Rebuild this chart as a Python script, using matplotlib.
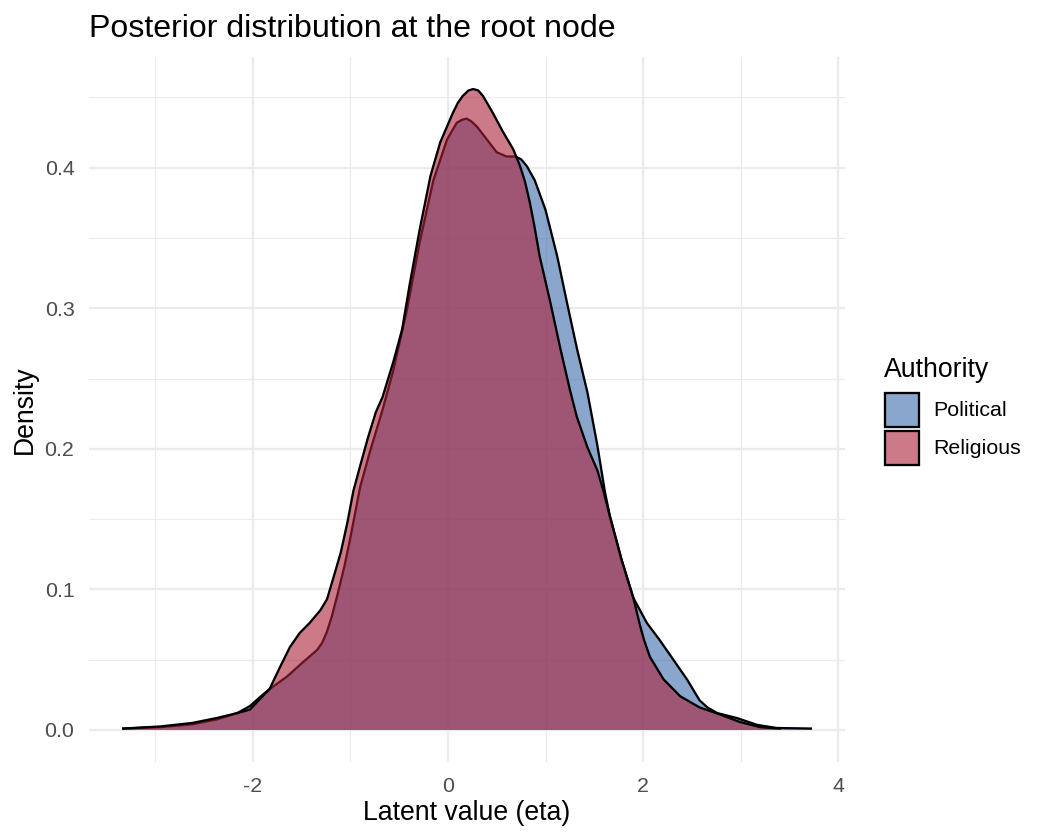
import matplotlib.pyplot as plt
from matplotlib.patches import Rectangle
from matplotlib.colors import to_rgba

# --- data (density curves) ---
political_x = [-3.33, -2.95, -2.62, -2.37, -2.16, -2.03, -1.90, -1.83, -1.65, -1.49,
               -1.34, -1.29, -1.24, -1.19, -1.13, -1.06, -1.00, -0.90, -0.80, -0.67,
               -0.56, -0.42, -0.29, -0.15, -0.01, 0.09, 0.14, 0.19, 0.24, 0.30,
               0.40, 0.50, 0.60, 0.69, 0.75, 0.81, 0.89, 1.00, 1.12, 1.22,
               1.32, 1.43, 1.53, 1.61, 1.66, 1.78, 1.90, 2.04, 2.17, 2.31,
               2.45, 2.58, 2.66, 2.76, 2.96, 3.17, 3.37, 3.72]
political_y = [0.001, 0.002, 0.004, 0.0075, 0.012, 0.017, 0.025, 0.029, 0.038, 0.048,
               0.057, 0.062, 0.070, 0.081, 0.097, 0.117, 0.137, 0.173, 0.198, 0.228,
               0.256, 0.299, 0.347, 0.391, 0.420, 0.432, 0.434, 0.435, 0.433, 0.429,
               0.420, 0.411, 0.408, 0.408, 0.406, 0.401, 0.391, 0.370, 0.337, 0.304,
               0.272, 0.240, 0.203, 0.169, 0.152, 0.121, 0.094, 0.076, 0.064, 0.050,
               0.036, 0.021, 0.016, 0.012, 0.0085, 0.0036, 0.0014, 0.001]

religious_x = [-3.33, -2.95, -2.62, -2.37, -2.16, -2.03, -1.90, -1.83, -1.72, -1.62,
               -1.52, -1.42, -1.31, -1.24, -1.18, -1.10, -1.03, -0.97, -0.90, -0.82,
               -0.74, -0.67, -0.56, -0.47, -0.39, -0.29, -0.18, -0.08, 0.05, 0.10,
               0.15, 0.21, 0.26, 0.31, 0.36, 0.46, 0.56, 0.67, 0.74, 0.79,
               0.84, 0.89, 0.94, 1.05, 1.15, 1.25, 1.32, 1.43, 1.53, 1.59,
               1.66, 1.78, 1.90, 1.97, 2.01, 2.07, 2.21, 2.38, 2.58, 2.79,
               2.99, 3.20, 3.40]
religious_y = [0.001, 0.0025, 0.005, 0.0085, 0.012, 0.0145, 0.024, 0.029, 0.045, 0.059,
               0.069, 0.076, 0.085, 0.093, 0.107, 0.126, 0.148, 0.170, 0.188, 0.208,
               0.226, 0.237, 0.262, 0.285, 0.318, 0.356, 0.394, 0.418, 0.439, 0.446,
               0.451, 0.455, 0.456, 0.455, 0.451, 0.439, 0.426, 0.413, 0.401, 0.390,
               0.375, 0.357, 0.337, 0.304, 0.272, 0.242, 0.223, 0.201, 0.185, 0.171,
               0.152, 0.121, 0.094, 0.074, 0.064, 0.052, 0.036, 0.024, 0.016, 0.011,
               0.0057, 0.002, 0.001]

groups = ['Political', 'Religious']
fill_colors = ['#3C6BAA', '#AC2139']
alpha = 0.6

plt.rcParams['font.family'] = ['Liberation Sans', 'DejaVu Sans']
plt.rcParams['axes.unicode_minus'] = False

W, H = 1050, 840
fig = plt.figure(figsize=(7, 5.6), dpi=150)
ax = fig.add_axes([89 / W, 1 - 762 / H, (845 - 89) / W, (762 - 57) / H])

# --- draw densities: political first, religious on top ---
series = [(political_x, political_y), (religious_x, religious_y)]
for i, (xs, ys) in enumerate(series):
    ax.fill_between(xs, 0, ys, facecolor=fill_colors[i], alpha=alpha, lw=0, zorder=2 + 2 * i)
    ax.plot(xs, ys, color='black', lw=1.1, zorder=3 + 2 * i, solid_joinstyle='round')

ax.set_xlim(-3.68, 4.07)
ax.set_ylim(-0.0228, 0.4788)

# --- theme_minimal look ---
ax.set_xticks([-2, 0, 2, 4])
ax.set_xticks([-3, -1, 1, 3], minor=True)
ax.set_yticks([0.0, 0.1, 0.2, 0.3, 0.4])
ax.set_yticklabels(['0.0', '0.1', '0.2', '0.3', '0.4'])
ax.set_yticks([0.05, 0.15, 0.25, 0.35, 0.45], minor=True)
ax.grid(which='major', color='#EBEBEB', lw=1.1, zorder=0)
ax.grid(which='minor', color='#EBEBEB', lw=0.55, zorder=0)
ax.set_axisbelow(True)
for s in ax.spines.values():
    s.set_visible(False)
ax.tick_params(which='both', length=0, pad=7, labelsize=10.25, labelcolor='#4D4D4D')

# titles
fig.text(89 / W, 1 - 37 / H, 'Posterior distribution at the root node',
         fontsize=15.4, ha='left', va='baseline')
fig.text(467 / W, 1 - 820 / H, 'Latent value (eta)', fontsize=12.8,
         ha='center', va='baseline')
fig.text(25 / W, 1 - 410 / H, 'Density', fontsize=12.8, rotation=90,
         ha='center', va='center')

# --- legend drawn by hand ---
fig.text(884 / W, 1 - 377 / H, 'Authority', fontsize=12.8, ha='left', va='baseline')
key_tops = [393, 431]
for i, g in enumerate(groups):
    top = key_tops[i]
    fig.patches.append(Rectangle((885 / W, 1 - (top + 34) / H), 34 / W, 34 / H,
                                 transform=fig.transFigure,
                                 facecolor=to_rgba(fill_colors[i], alpha),
                                 edgecolor='black', lw=1.1))
    fig.text(933 / W, 1 - (top + 17) / H, g, fontsize=10.25, ha='left', va='center')

fig.savefig('out.png', dpi=150)
